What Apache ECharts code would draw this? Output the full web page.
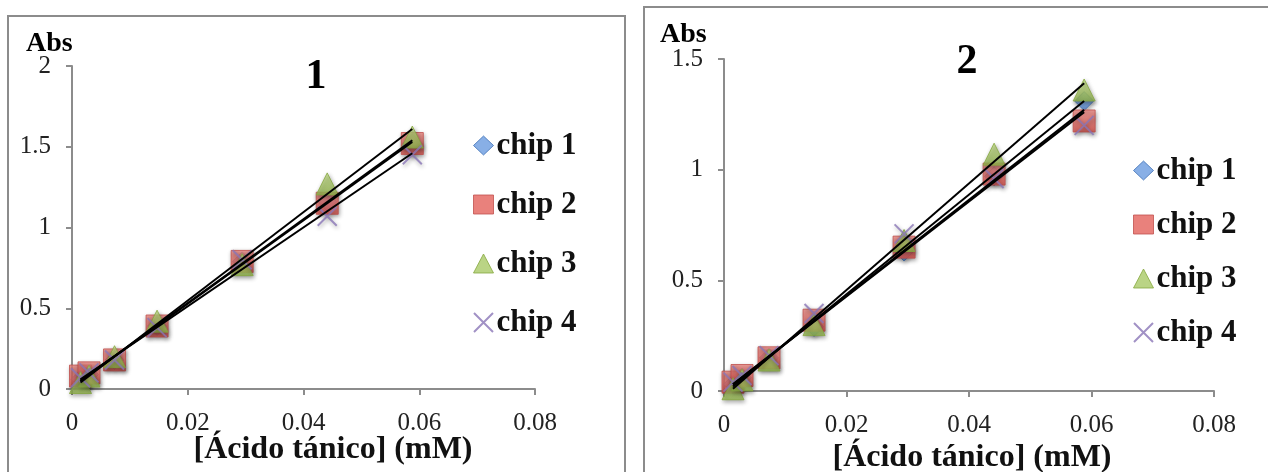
<!DOCTYPE html>
<html>
<head>
<meta charset="utf-8">
<script src="https://cdn.jsdelivr.net/npm/echarts@6/dist/echarts.min.js"></script>
<style>
html,body{margin:0;padding:0;background:#fff;}
#c{width:1268px;height:472px;}
</style>
</head>
<body>
<div id="c"></div>
<script>
// ---- data ----
var concentrations = [0.00147, 0.00294, 0.00735, 0.0147, 0.0294, 0.0441, 0.0588];
var seriesNames = ['chip 1', 'chip 2', 'chip 3', 'chip 4'];
var panel1Chip1 = [0.06, 0.09, 0.18, 0.39, 0.79, 1.16, 1.52];
var panel1Chip2 = [0.08, 0.10, 0.18, 0.39, 0.79, 1.15, 1.52];
var panel1Chip3 = [0.04, 0.08, 0.20, 0.42, 0.77, 1.27, 1.56];
var panel1Chip4 = [0.07, 0.10, 0.18, 0.38, 0.80, 1.07, 1.45];
var panel2Chip1 = [0.03, 0.06, 0.15, 0.29, 0.63, 0.97, 1.31];
var panel2Chip2 = [0.04, 0.07, 0.15, 0.32, 0.65, 0.98, 1.22];
var panel2Chip3 = [0.01, 0.05, 0.14, 0.30, 0.68, 1.07, 1.36];
var panel2Chip4 = [0.04, 0.07, 0.16, 0.35, 0.71, 0.96, 1.20];
// trend lines: x range and y at both ends, per chip
var trendX = [0.00147, 0.0588];
var panel1TrendStart = [0.05, 0.05, 0.04, 0.06];
var panel1TrendEnd   = [1.53, 1.54, 1.61, 1.46];
var panel2TrendStart = [0.02, 0.03, 0.01, 0.03];
var panel2TrendEnd   = [1.31, 1.27, 1.39, 1.26];
var xTicks = {min: 0, max: 0.08, interval: 0.02};
var y1Ticks = {min: 0, max: 2, interval: 0.5};
var y2Ticks = {min: 0, max: 1.5, interval: 0.5};
var panelTitles = ['1', '2'];
var xTitle = '[Ácido tánico] (mM)';
var yTitle = 'Abs';

// ---- styles ----
var SERIF = '"Liberation Serif", "DejaVu Serif", serif';
var xPath = 'path://M0,0 L10,10 M10,0 L0,10';
var markerStyles = [
  {symbol: 'diamond', size: 19, item: {color: new echarts.graphic.LinearGradient(0,0,0,1,[{offset:0,color:'#8fb8ef'},{offset:1,color:'#4f85d0'}]), borderColor: '#3f70b5', borderWidth: 1}},
  {symbol: 'rect', size: 22, item: {color: new echarts.graphic.LinearGradient(0,0,0,1,[{offset:0,color:'#f08a84'},{offset:1,color:'#d94f48'}]), borderColor: '#c0504d', borderWidth: 1}},
  {symbol: 'triangle', size: 22, item: {color: new echarts.graphic.LinearGradient(0,0,0,1,[{offset:0,color:'#c2dc86'},{offset:1,color:'#93b64d'}]), borderColor: '#86a83f', borderWidth: 1}},
  {symbol: xPath, size: 19, item: {color: 'rgba(0,0,0,0)', borderColor: '#8a76b6', borderWidth: 2}}
];
var legendSwatch = [
  {color: '#6a9be0', borderColor: '#3f70b5', borderWidth: 1},
  {color: '#e4625b', borderColor: '#c0504d', borderWidth: 1},
  {color: '#a9c967', borderColor: '#86a83f', borderWidth: 1},
  {color: 'rgba(0,0,0,0)', borderColor: '#8a76b6', borderWidth: 2}
];

var panels = [
  {grid: {left: 72, top: 66, width: 463, height: 323}, y: y1Ticks,
   data: [panel1Chip1, panel1Chip2, panel1Chip3, panel1Chip4],
   tStart: panel1TrendStart, tEnd: panel1TrendEnd,
   legend: {left: 468, top: 125, itemGap: 28},
   title: {x: 316, y: 77}, abs: {x: 26, y: 44}, xt: {x: 333, y: 450},
   border: {x: 8, y: 16, w: 617, h: 500}},
  {grid: {left: 724, top: 59, width: 490, height: 332}, y: y2Ticks,
   data: [panel2Chip1, panel2Chip2, panel2Chip3, panel2Chip4],
   tStart: panel2TrendStart, tEnd: panel2TrendEnd,
   legend: {left: 1128, top: 150, itemGap: 23},
   title: {x: 967, y: 62}, abs: {x: 660, y: 35}, xt: {x: 972, y: 458},
   border: {x: 644, y: 7, w: 700, h: 520}}
];

var option = {
  animation: false,
  backgroundColor: '#fff',
  grid: [], xAxis: [], yAxis: [], series: [], legend: [], graphic: []
};

panels.forEach(function (p, pi) {
  option.grid.push(p.grid);
  option.xAxis.push({
    type: 'value', gridIndex: pi, min: xTicks.min, max: xTicks.max, interval: xTicks.interval,
    axisLine: {show: true, lineStyle: {color: '#8c8c8c', width: 2}},
    axisTick: {show: true, inside: false, length: 6, lineStyle: {color: '#8c8c8c', width: 2}},
    axisLabel: {color: '#222', fontFamily: SERIF, fontSize: 25, margin: 22},
    splitLine: {show: false}
  });
  option.yAxis.push({
    type: 'value', gridIndex: pi, min: p.y.min, max: p.y.max, interval: p.y.interval,
    axisLine: {show: true, lineStyle: {color: '#8c8c8c', width: 2}},
    axisTick: {show: true, inside: false, length: 6, lineStyle: {color: '#8c8c8c', width: 2}},
    axisLabel: {color: '#222', fontFamily: SERIF, fontSize: 25, margin: 21},
    splitLine: {show: false}
  });
  p.data.forEach(function (vals, si) {
    var ms = markerStyles[si];
    option.series.push({
      name: seriesNames[si], type: 'scatter', xAxisIndex: pi, yAxisIndex: pi,
      symbol: ms.symbol, symbolSize: ms.size,
      itemStyle: Object.assign({shadowBlur: 4, shadowColor: 'rgba(0,0,0,0.4)', shadowOffsetX: 1, shadowOffsetY: 2}, ms.item),
      data: concentrations.map(function (x, k) { return [x, vals[k]]; }),
      z: 2 + si
    });
  });
  p.tStart.forEach(function (y0, si) {
    option.series.push({
      name: 'trend ' + (si + 1), type: 'line', xAxisIndex: pi, yAxisIndex: pi,
      showSymbol: false, symbol: 'none', silent: true,
      lineStyle: {color: '#000', width: 2},
      data: [[trendX[0], y0], [trendX[1], p.tEnd[si]]],
      z: 10
    });
  });
  option.legend.push({
    orient: 'vertical', left: p.legend.left, top: p.legend.top, itemGap: p.legend.itemGap,
    itemWidth: 20, itemHeight: 19,
    textStyle: {fontFamily: SERIF, fontWeight: 'bold', fontSize: 31, color: '#111', lineHeight: 30, padding: [0, 0, 0, -2]},
    data: seriesNames.map(function (n, si) {
      return {name: n, icon: markerStyles[si].symbol, itemStyle: legendSwatch[si]};
    })
  });
  option.graphic.push({
    type: 'rect', shape: {x: p.border.x, y: p.border.y, width: p.border.w, height: p.border.h},
    style: {fill: 'none', stroke: '#8c8c8c', lineWidth: 2}, z: 0
  });
  option.graphic.push({
    type: 'text', x: p.title.x, y: p.title.y,
    style: {text: panelTitles[pi], font: 'bold 42px ' + SERIF, fill: '#000', textAlign: 'center', textVerticalAlign: 'middle'}
  });
  option.graphic.push({
    type: 'text', x: p.abs.x, y: p.abs.y,
    style: {text: yTitle, font: 'bold 28px ' + SERIF, fill: '#000', textAlign: 'left', textVerticalAlign: 'middle'}
  });
  option.graphic.push({
    type: 'text', x: p.xt.x, y: p.xt.y,
    style: {text: xTitle, font: 'bold 32px ' + SERIF, fill: '#111', textAlign: 'center', textVerticalAlign: 'middle'}
  });
});

var chart = echarts.init(document.getElementById('c'), null, {renderer: 'canvas'});
chart.setOption(option);
</script>
</body>
</html>
